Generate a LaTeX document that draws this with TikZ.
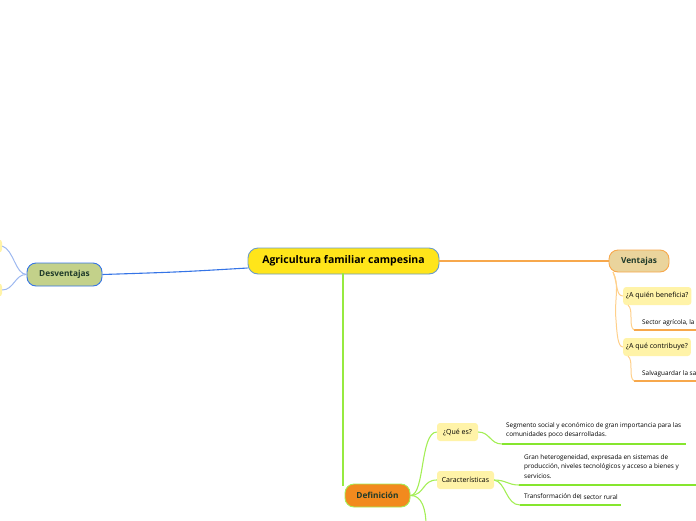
\documentclass[tikz,border=0pt]{standalone}
\usepackage{fontspec}
\setmainfont{Open Sans}
\definecolor{mainfill}{HTML}{FFE51A}
\definecolor{mainborder}{HTML}{6C9CC4}
\definecolor{desvfill}{HTML}{C3D18A}
\definecolor{blueline}{HTML}{3574E6}
\definecolor{lightblue}{HTML}{9DB8F0}
\definecolor{ventfill}{HTML}{EAD49C}
\definecolor{orangeline}{HTML}{F7A84C}
\definecolor{lightorange}{HTML}{FFD08A}
\definecolor{subfill}{HTML}{FFF3A8}
\definecolor{defnfill}{HTML}{F28A1E}
\definecolor{greenline}{HTML}{A4EE56}
\definecolor{greenmain}{HTML}{96EA40}
\definecolor{greenul}{HTML}{86E62E}
\definecolor{darktext}{HTML}{1F3A2A}
\tikzset{
  mainbox/.style={draw=mainborder, line width=0.9pt, fill=mainfill, rounded corners=10pt,
    minimum width=191pt, minimum height=26pt, inner sep=0pt, font=\fontsize{10.5}{12}\selectfont\bfseries, text=black},
  desvbox/.style={draw=blueline, line width=0.9pt, fill=desvfill, rounded corners=9pt,
    minimum width=75pt, minimum height=23pt, inner sep=0pt, font=\fontsize{8.3}{10}\selectfont\bfseries, text=darktext},
  ventbox/.style={draw=orangeline, line width=0.9pt, fill=ventfill, rounded corners=9pt,
    minimum width=60pt, minimum height=22pt, inner sep=0pt, font=\fontsize{8.3}{10}\selectfont\bfseries, text=darktext},
  defnbox/.style={draw=greenline, line width=0.9pt, fill=defnfill, rounded corners=9pt,
    minimum width=65pt, minimum height=23pt, inner sep=0pt, font=\fontsize{8.3}{10}\selectfont\bfseries, text=darktext},
  subbox/.style={fill=subfill, rounded corners=3pt, minimum height=18pt, inner sep=3pt,
    font=\fontsize{7}{8}\selectfont, text=black},
  leaftext/.style={inner sep=0pt, align=left, font=\fontsize{6.4}{9.5}\selectfont, text=black, anchor=north west},
  blueconn/.style={color=blueline, line width=1.1pt},
  lbconn/.style={color=lightblue, line width=1pt},
  orconn/.style={color=orangeline, line width=1.1pt},
  loconn/.style={color=lightorange, line width=1pt},
  orul/.style={color=orangeline, line width=2pt},
  grconn/.style={color=greenline, line width=1.1pt},
  grmain/.style={color=greenmain, line width=2pt},
  grul/.style={color=greenul, line width=2pt},
}
\begin{document}
\begin{tikzpicture}[x=1pt,y=-1pt]
\useasboundingbox (0,0) rectangle (696,520);

\coordinate (cw) at (249,268);
\coordinate (cs) at (343,273);
\coordinate (dn) at (343,486);

% main nodes
\node[mainbox] (c) at (343.5,261) {Agricultura familiar campesina};
\node[desvbox] (d) at (64.5,274.5) {Desventajas};
\node[ventbox] (v) at (639,261) {Ventajas};

% main connectors
\draw[grmain] (cs) -- (dn);
\node[defnbox] (df) at (377.5,495.5) {Definición};

% partially visible nodes at left edge
\node[fill=subfill, rounded corners=3pt, minimum width=12pt, minimum height=13pt, inner sep=0pt] (dl1) at (-4,246) {};
\node[fill=subfill, rounded corners=3pt, minimum width=12pt, minimum height=13pt, inner sep=0pt] (dl2) at (-4,290) {};

\draw[blueconn] (c.west |- cw) .. controls (180,272) .. (d.east);
\draw[orconn] (c.east) -- (v.west);

% Desventajas children
\draw[lbconn] (d.west) .. controls (15,274) and (14,250) .. (dl1.east);
\draw[lbconn] (d.west) .. controls (15,274) and (14,290) .. (dl2.east);

% Ventajas children
\node[subbox, anchor=west] (q1) at (623,296) {¿A quién beneficia?};
\node[subbox, anchor=west] (q2) at (623,347) {¿A qué contribuye?};
\coordinate (vs) at (613,272);
\draw[loconn] (vs) .. controls (618,285) and (616,296) .. (q1.west);
\draw[loconn] (vs) .. controls (620,285) and (614,300) .. (616,320) .. controls (617,335) and (618,347) .. (q2.west);

\node[leaftext] (t1) at (642,319.5) {Sector agrícola, la};
\coordinate (u1a) at (634,330);
\coordinate (u1b) at (700,330);
\draw[orul] (u1a) -- (u1b);
\coordinate (q1b) at (628,305);
\draw[loconn] (q1b) .. controls (634,310) and (628,326) .. (u1a);

\node[leaftext] (t2) at (642,370.5) {Salvaguardar la sa};
\coordinate (u2a) at (634,381);
\coordinate (u2b) at (700,381);
\draw[orul] (u2a) -- (u2b);
\coordinate (q2b) at (628,356);
\draw[loconn] (q2b) .. controls (634,361) and (628,377) .. (u2a);

% Definicion children
\node[subbox, minimum width=41pt, inner sep=0pt] (q3) at (457.5,432) {¿Qué es?};
\node[subbox, minimum width=57pt, inner sep=0pt] (q4) at (465.5,480) {Características};
\coordinate (dfo) at (426,525);
\draw[grconn] (df.east) .. controls (425,495) and (420,432) .. (q3.west);
\draw[grconn] (df.east) .. controls (425,495) and (422,480) .. (q4.west);
\draw[grconn] (df.east) .. controls (422,495) and (426,510) .. (dfo);

\node[leaftext] (t3) at (506,422) {Segmento social y económico de gran importancia para las\\comunidades poco desarrolladas.};
\coordinate (u3a) at (502,444);
\coordinate (u3b) at (686,444);
\draw[grul] (u3a) -- (u3b);
\draw[grconn] (q3.east) .. controls (490,432) and (490,444) .. (u3a);

\node[leaftext] (t4) at (524,454) {Gran heterogeneidad, expresada en sistemas de\\producción, niveles tecnológicos y acceso a bienes y\\servicios.};
\coordinate (u4a) at (519,485);
\coordinate (u4b) at (700,485);
\draw[grul] (u4a) -- (u4b);
\draw[grconn] (q4.east) .. controls (506,480) and (508,485) .. (u4a);

\node[leaftext] (t5) at (524,493.5) {Transformación de\raisebox{-1pt}{l sector rural}};
\coordinate (u5a) at (520,505);
\coordinate (u5b) at (621,505);
\draw[grul] (u5a) -- (u5b);
\draw[grconn] (q4.east) .. controls (506,482) and (506,505) .. (u5a);
\end{tikzpicture}
\end{document}
